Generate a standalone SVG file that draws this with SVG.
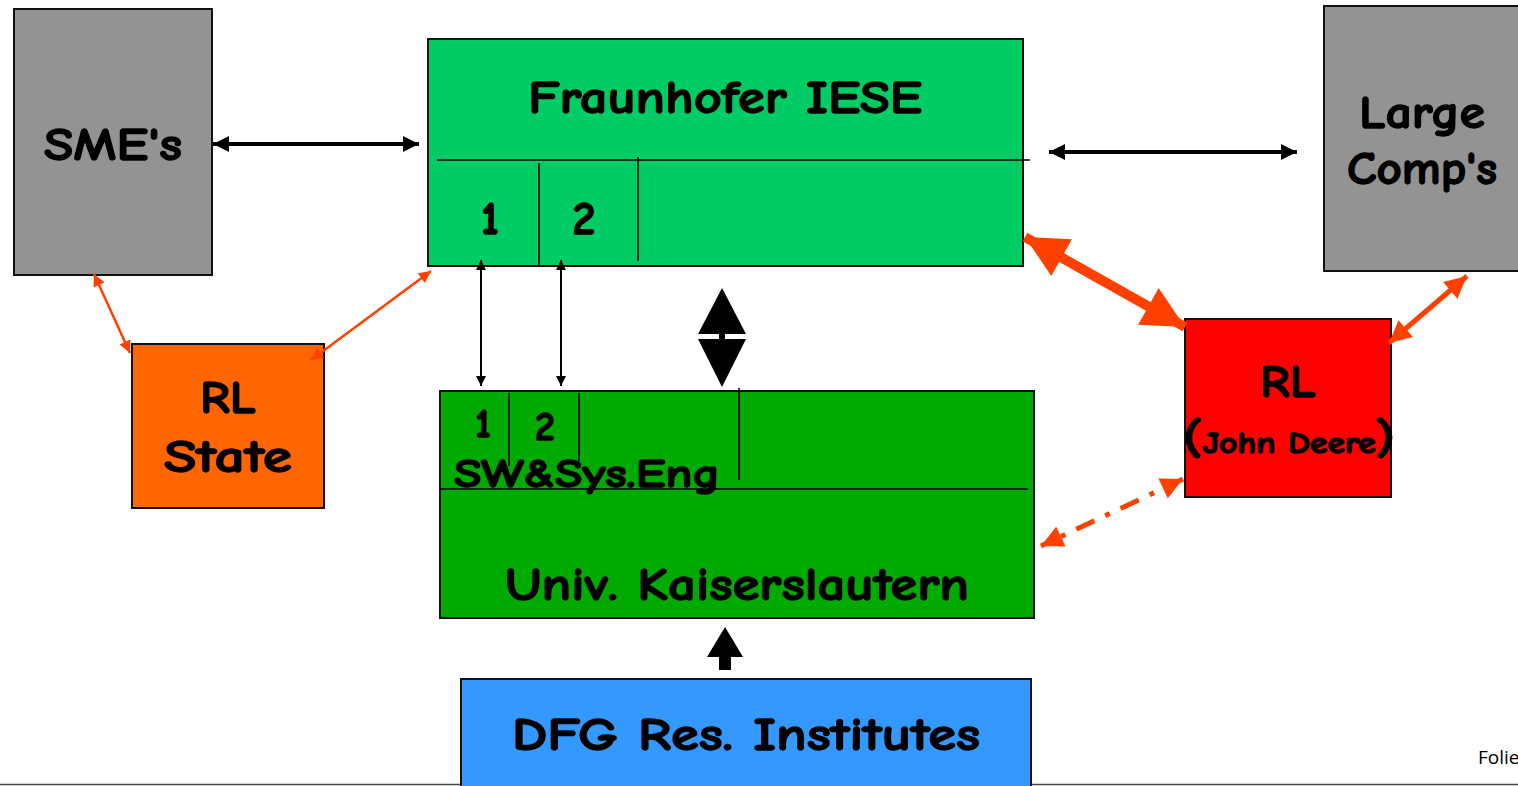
<svg xmlns="http://www.w3.org/2000/svg" width="1518" height="786" viewBox="0 0 1518 786">
<style>
.box{stroke:#111;stroke-width:2}
.t{font-family:"Comic Sans MS","Comic Neue","DejaVu Sans",sans-serif;font-weight:bold;fill:#000;stroke:#000;stroke-width:1.3;stroke-linejoin:round;text-anchor:middle}
.div{stroke:#000;stroke-width:1.6;fill:none}
.blk{stroke:#000;fill:none}
.red{stroke:#FF4000;fill:none}
</style>
<defs>
<marker id="hb" markerUnits="userSpaceOnUse" viewBox="0 0 10 10" refX="10" refY="5" markerWidth="16" markerHeight="16" orient="auto-start-reverse"><path d="M0,0 L10,5 L0,10 z" fill="#000"/></marker>
<marker id="hbs" markerUnits="userSpaceOnUse" viewBox="0 0 10 10" refX="10" refY="5" markerWidth="12" markerHeight="10" orient="auto-start-reverse"><path d="M0,0 L10,5 L0,10 z" fill="#000"/></marker>
<marker id="hr1" markerUnits="userSpaceOnUse" viewBox="0 0 10 10" refX="10" refY="5" markerWidth="14" markerHeight="12" orient="auto-start-reverse"><path d="M0,0 L10,5 L0,10 z" fill="#FF4000"/></marker>
<marker id="hr2" markerUnits="userSpaceOnUse" viewBox="0 0 10 10" refX="10" refY="5" markerWidth="24" markerHeight="22" orient="auto-start-reverse"><path d="M0,0 L10,5 L0,10 z" fill="#FF4000"/></marker>
<marker id="hr3" markerUnits="userSpaceOnUse" viewBox="0 0 10 10" refX="10" refY="5" markerWidth="44" markerHeight="42" orient="auto-start-reverse"><path d="M0,0 L10,5 L0,10 z" fill="#FF4000"/></marker>
</defs>
<rect width="1518" height="786" fill="#fff"/>
<line x1="0" y1="784.5" x2="1518" y2="784.5" stroke="#444" stroke-width="1.5"/>
<text x="1478" y="764" font-family="'Open Sans','Liberation Sans',sans-serif" font-size="19" fill="#000">Folie</text>

<g id="sme">
<rect class="box" x="14" y="9" width="198" height="266" fill="#939393"/>
<text class="t" x="113" y="160" font-size="46" textLength="138" lengthAdjust="spacingAndGlyphs">SME's</text>
</g>

<g id="iese">
<rect class="box" x="428" y="39" width="595" height="227" fill="#00CC66"/>
<line class="div" x1="437" y1="160" x2="1030" y2="160"/>
<line class="div" x1="539" y1="163" x2="539" y2="266"/>
<line class="div" x1="638" y1="157" x2="638" y2="261"/>
<text class="t" x="725" y="113" font-size="46" textLength="394" lengthAdjust="spacingAndGlyphs">Fraunhofer IESE</text>
<text class="t" x="490" y="234" font-size="46">1</text>
<text class="t" x="584" y="234" font-size="46">2</text>
</g>

<g id="large">
<rect class="box" x="1324" y="6" width="200" height="265" fill="#939393"/>
<text class="t" x="1422" y="128" font-size="46" textLength="126" lengthAdjust="spacingAndGlyphs">Large</text>
<text class="t" x="1422" y="184" font-size="46" textLength="150" lengthAdjust="spacingAndGlyphs">Comp's</text>
</g>

<g id="rl-jd">
<rect class="box" x="1185" y="319" width="206" height="178" fill="#FF0000"/>
<text class="t" x="1288" y="397" font-size="46" textLength="56" lengthAdjust="spacingAndGlyphs">RL</text>
<text class="t" x="1289" y="453" font-size="30" textLength="212" lengthAdjust="spacingAndGlyphs"><tspan font-size="46">(</tspan>John Deere<tspan font-size="46">)</tspan></text>
</g>

<g id="rl-state">
<rect class="box" x="132" y="344" width="192" height="164" fill="#FF6600"/>
<text class="t" x="228" y="413" font-size="46" textLength="56" lengthAdjust="spacingAndGlyphs">RL</text>
<text class="t" x="228" y="472" font-size="46" textLength="128" lengthAdjust="spacingAndGlyphs">State</text>
</g>

<g id="univ">
<rect class="box" x="440" y="391" width="594" height="227" fill="#00AA00"/>
<line class="div" x1="440" y1="489" x2="1028" y2="489"/>
<line class="div" x1="509" y1="393" x2="509" y2="466"/>
<line class="div" x1="579" y1="393" x2="579" y2="461"/>
<line class="div" x1="739" y1="388" x2="739" y2="480"/>
<text class="t" x="483" y="437" font-size="40">1</text>
<text class="t" x="545" y="440" font-size="40">2</text>
<text class="t" x="587" y="487" font-size="40" textLength="266" lengthAdjust="spacingAndGlyphs">SW&amp;Sys.Eng</text>
<text class="t" x="737" y="600" font-size="46" textLength="464" lengthAdjust="spacingAndGlyphs">Univ. Kaiserslautern</text>
</g>

<g id="dfg">
<rect class="box" x="461" y="679" width="570" height="120" fill="#3399FF"/>
<text class="t" x="746" y="750" font-size="46" textLength="468" lengthAdjust="spacingAndGlyphs">DFG Res. Institutes</text>
</g>

<g id="connectors">
<line class="blk" x1="213" y1="144" x2="419" y2="144" stroke-width="4" marker-start="url(#hb)" marker-end="url(#hb)"/>
<line class="blk" x1="1049" y1="152" x2="1297" y2="152" stroke-width="4" marker-start="url(#hb)" marker-end="url(#hb)"/>
<line class="blk" x1="481" y1="260" x2="481" y2="386" stroke-width="2" marker-start="url(#hbs)" marker-end="url(#hbs)"/>
<line class="blk" x1="561" y1="260" x2="561" y2="386" stroke-width="2" marker-start="url(#hbs)" marker-end="url(#hbs)"/>
<path d="M722,288 L746,334 L725,334 L725,339 L746,339 L722,387 L698,339 L719,339 L719,334 L698,334 Z" fill="#000"/>
<path d="M725,627 L743,657 L731,657 L731,670 L719,670 L719,657 L707,657 Z" fill="#000"/>
<line class="red" x1="94" y1="274" x2="130" y2="353" stroke-width="2.5" marker-start="url(#hr1)" marker-end="url(#hr1)"/>
<line class="red" x1="431" y1="271" x2="311" y2="360" stroke-width="2.5" marker-start="url(#hr1)" marker-end="url(#hr1)"/>
<line class="red" x1="1025" y1="237" x2="1185" y2="327" stroke-width="10" marker-start="url(#hr3)" marker-end="url(#hr3)"/>
<line class="red" x1="1467" y1="276" x2="1389" y2="343" stroke-width="5" marker-start="url(#hr2)" marker-end="url(#hr2)"/>
<line class="red" x1="1183" y1="479" x2="1041" y2="546" stroke-width="5" stroke-dasharray="20 12 5 12" marker-start="url(#hr2)" marker-end="url(#hr2)"/>
</g>
</svg>
